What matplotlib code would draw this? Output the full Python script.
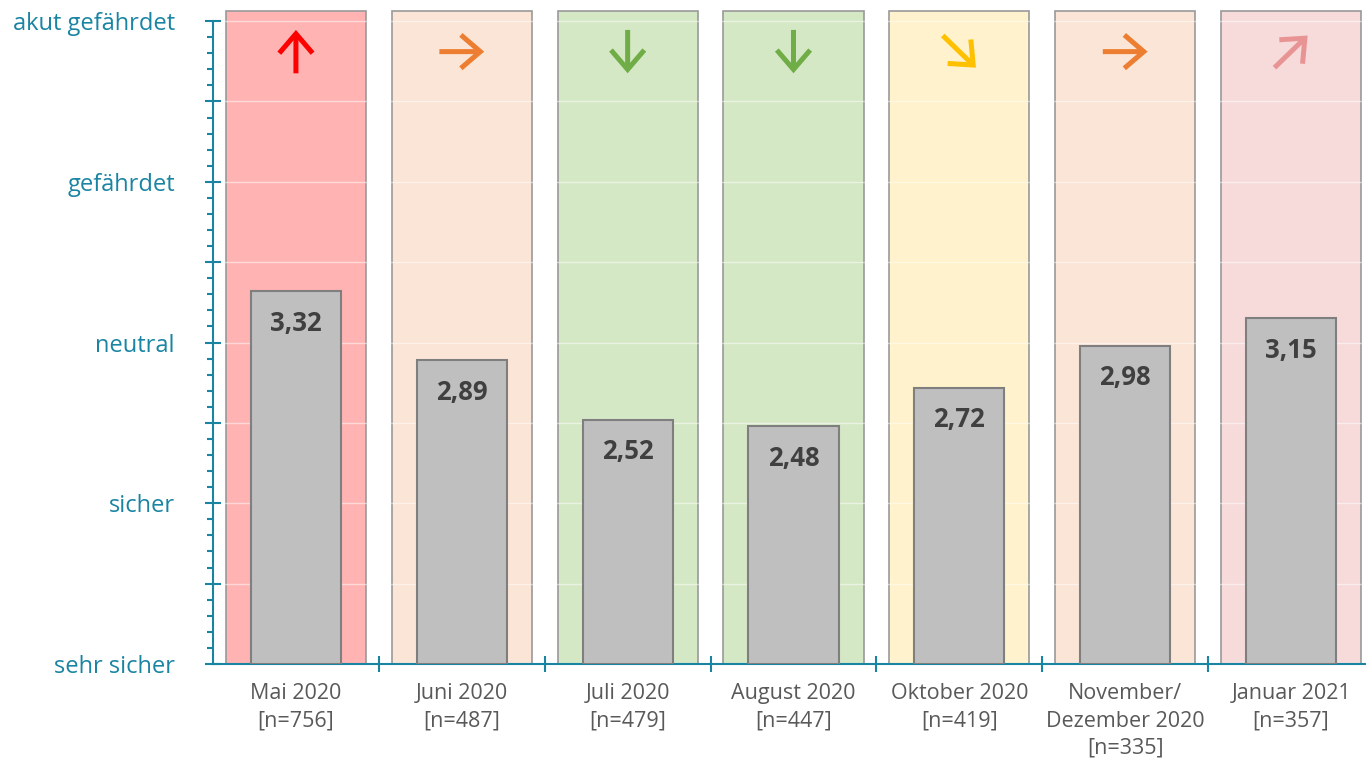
import matplotlib
matplotlib.use("Agg")
import matplotlib.pyplot as plt
from matplotlib.ticker import FixedLocator

plt.rcParams['font.family'] = ['Open Sans', 'DejaVu Sans']

# data
categories = ["Mai 2020\n[n=756]", "Juni 2020\n[n=487]", "Juli 2020\n[n=479]",
              "August 2020\n[n=447]", "Oktober 2020\n[n=419]",
              "November/\nDezember 2020\n[n=335]", "Januar 2021\n[n=357]"]
values = [3.32, 2.89, 2.52, 2.48, 2.72, 2.98, 3.15]
band_colors = ["#ffb3b3", "#fbe5d6", "#d5e8c6", "#d5e8c6", "#fff2cc", "#fbe5d6", "#f7dbdb"]
# trend arrows: direction (dx, dy) and colour
trend_dirs = [(0, 1), (1, 0), (0, -1), (0, -1), (1, -1), (1, 0), (1, 1)]
trend_colors = ["#ff0000", "#ed7d31", "#70ad47", "#70ad47", "#ffc000", "#ed7d31", "#e99494"]
level_ticks = [1, 2, 3, 4, 5]
level_labels = ["sehr sicher", "sicher", "neutral", "gefährdet", "akut gefährdet"]

teal = "#1a84a3"

fig = plt.figure(figsize=(13.66, 7.63), dpi=100)
ax = fig.add_axes([213 / 1366, 99 / 763, 1161 / 1366, 659 / 763])

x = range(len(values))

# background bands
ax.bar(x, [5.06 - 1] * len(values), bottom=1, width=0.845, color=band_colors,
       edgecolor="#999999", linewidth=1.2, zorder=1)

# white grid over bands
for yv in [1.5, 2, 2.5, 3, 3.5, 4, 4.5, 5]:
    ax.axhline(yv, color="white", alpha=0.5, lw=1, zorder=1.5)

# bars
ax.bar(x, [v - 1 for v in values], bottom=1, width=0.543, color="#bfbfbf",
       edgecolor="#7f7f7f", linewidth=1.5, zorder=3)

for i, v in enumerate(values):
    ax.annotate(f"{v:.2f}".replace(".", ","), (i, v), xytext=(0, -23),
                textcoords="offset points", ha="center", va="center",
                fontsize=18.5, fontweight="bold", color="#404040", zorder=4)

# trend arrows
for i, ((dx, dy), c) in enumerate(zip(trend_dirs, trend_colors)):
    L = 0.135 if dx == 0 or dy == 0 else 0.1
    cx, cy = i, 4.81
    ax.annotate("", xy=(cx + dx * L, cy + dy * L), xytext=(cx - dx * L, cy - dy * L),
                arrowprops=dict(arrowstyle="->,head_length=0.7,head_width=0.6",
                                lw=3.6, color=c, shrinkA=0, shrinkB=0,
                                mutation_scale=20, joinstyle="miter", capstyle="butt"),
                zorder=4)

ax.set_xlim(-0.5, len(values) - 0.5)
ax.set_ylim(1, 5.1)

# axes styling
for s in ["top", "right"]:
    ax.spines[s].set_visible(False)
ax.spines["left"].set_color(teal)
ax.spines["bottom"].set_color(teal)
ax.spines["left"].set_linewidth(1.5)
ax.spines["bottom"].set_linewidth(1.5)
ax.spines["left"].set_bounds(1, 5)

major_y = [1, 1.5, 2, 2.5, 3, 3.5, 4, 4.5, 5]
ax.yaxis.set_major_locator(FixedLocator(major_y))
ax.yaxis.set_minor_locator(FixedLocator([1 + k / 10 for k in range(41) if k % 5]))
ax.set_yticklabels([level_labels[level_ticks.index(t)] if t in level_ticks else ""
                    for t in major_y])
ax.tick_params(axis="y", which="major", direction="inout", length=12, width=1.5,
               color=teal, labelcolor=teal, labelsize=17, pad=21.5)
ax.tick_params(axis="y", which="minor", direction="out", length=4.5, width=1.5, color=teal)

ax.xaxis.set_major_locator(FixedLocator(list(x)))
ax.xaxis.set_minor_locator(FixedLocator([i + 0.5 for i in range(len(values) - 1)]))
ax.set_xticklabels(categories)
ax.tick_params(axis="x", which="major", length=0, labelsize=15.5, labelcolor="#595959", pad=14)
ax.tick_params(axis="x", which="minor", direction="inout", length=11, width=1.5, color=teal)
for lab in ax.get_xticklabels():
    lab.set_linespacing(1.38)

fig.savefig("out.png", dpi=100)
